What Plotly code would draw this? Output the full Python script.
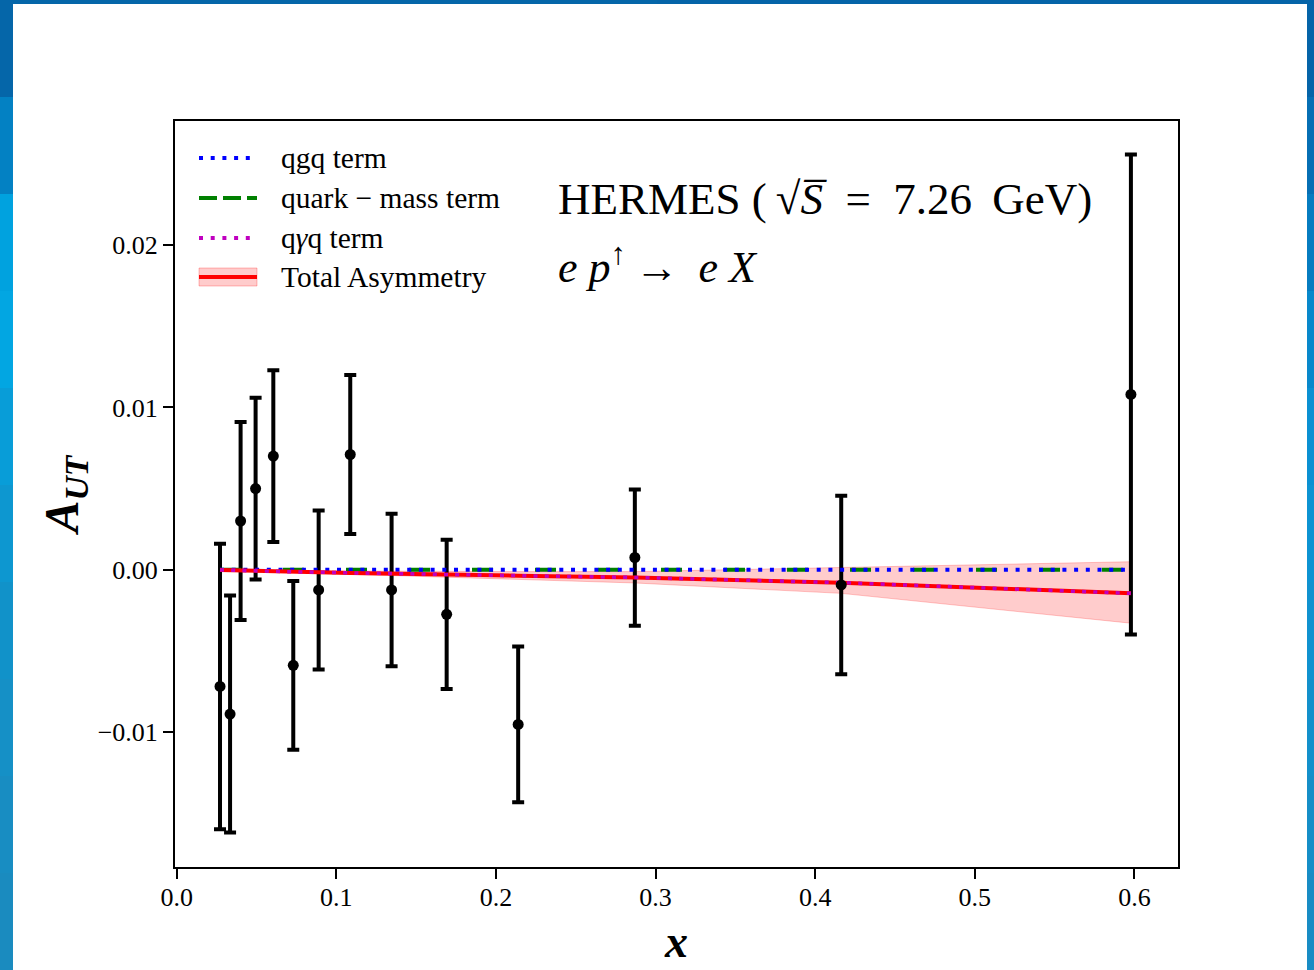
import plotly.graph_objects as go

# ---------------- data ----------------
x_data = [0.0271, 0.0334, 0.0400, 0.0494, 0.0605, 0.0730, 0.0889,
          0.1087, 0.1346, 0.1691, 0.2139, 0.2870, 0.4163, 0.5978]
a_ut = [-0.0072, -0.0089, 0.0030, 0.0050, 0.0070, -0.0059, -0.00125,
        0.0071, -0.00125, -0.00275, -0.00954, 0.00075, -0.00094, 0.0108]
a_err = [0.0088, 0.0073, 0.0061, 0.0056, 0.0053, 0.0052, 0.0049,
         0.0049, 0.0047, 0.0046, 0.0048, 0.0042, 0.0055, 0.0148]

x_theory = x_data
qgq_term = [0.0, 0.0, 0.0, 0.0, 0.0, 0.0, 0.0,
            0.0, 0.0, 0.0, 0.0, 0.0, 0.0, 0.0]
qmass_term = [0.0, 0.0, 0.0, 0.0, 0.0, 0.0, 0.0,
              0.0, 0.0, 0.0, 0.0, 0.0, 0.0, 0.0]
qgammaq_term = [-0.00002, -0.00004, -0.00006, -0.00008, -0.0001, -0.00013, -0.00016,
                -0.0002, -0.00025, -0.0003, -0.00037, -0.00048, -0.0008, -0.00146]
total = [-0.00002, -0.00004, -0.00006, -0.00008, -0.0001, -0.00013, -0.00016,
         -0.0002, -0.00025, -0.0003, -0.00037, -0.00048, -0.0008, -0.00146]
total_hi = [-0.00001, -0.00002, -0.00003, -0.00004, -0.00005, -0.00006, -0.00007,
            -0.00008, -0.0001, -0.00011, -0.00012, -0.00012, 0.00015, 0.00049]
total_lo = [-0.00004, -0.00006, -0.0001, -0.00013, -0.00016, -0.0002, -0.00025,
            -0.0003, -0.00038, -0.00048, -0.0006, -0.00082, -0.00146, -0.0033]

x_ticks = [0.0, 0.1, 0.2, 0.3, 0.4, 0.5, 0.6]
x_tick_labels = ["0.0", "0.1", "0.2", "0.3", "0.4", "0.5", "0.6"]
y_ticks = [-0.01, 0.0, 0.01, 0.02]
y_tick_labels = ["\u22120.01", "0.00", "0.01", "0.02"]

legend_labels = ["qgq term", "quark \u2212 mass term", "q<i>\u03b3</i>q term", "Total Asymmetry"]

# ---------------- layout geometry ----------------
W, H = 1314, 970
L, R, T, B = 175, 136, 121, 103
PW, PH = W - L - R, H - T - B
FONT = "Liberation Serif"


def px(x):
    return (x - L) / PW


def py(y):
    return (H - B - y) / PH


fig = go.Figure()

# band
fig.add_trace(go.Scatter(
    x=x_theory + x_theory[::-1], y=total_hi + total_lo[::-1],
    fill="toself", fillcolor="rgba(255,0,0,0.2)",
    line=dict(color="rgba(255,0,0,0.22)", width=1),
    mode="lines", hoverinfo="skip", showlegend=False))

# error bars (no visible markers)
fig.add_trace(go.Scatter(
    x=x_data, y=a_ut, mode="markers",
    marker=dict(size=11, color="rgba(0,0,0,0)"),
    error_y=dict(type="data", array=a_err, visible=True,
                 color="black", thickness=4, width=6),
    showlegend=False))

# theory lines
fig.add_trace(go.Scatter(x=x_theory, y=qmass_term, mode="lines",
                         line=dict(color="green", width=4, dash="21px,42px"),
                         showlegend=False))
fig.add_trace(go.Scatter(x=x_theory, y=qgq_term, mode="lines",
                         line=dict(color="blue", width=4, dash="4px,7.7px"),
                         showlegend=False))
fig.add_trace(go.Scatter(x=x_theory, y=total, mode="lines",
                         line=dict(color="red", width=4),
                         showlegend=False))
fig.add_trace(go.Scatter(x=x_theory, y=qgammaq_term, mode="lines",
                         line=dict(color="#c000c0", width=3.5, dash="4px,7.2px"),
                         showlegend=False))

# data markers on top
fig.add_trace(go.Scatter(x=x_data, y=a_ut, mode="markers",
                         marker=dict(size=11, color="black"),
                         showlegend=False))

# ---------------- background frame ----------------
shapes = []
left_cols = ["#0566a9", "#0381c3", "#00a2df", "#02a6e2", "#089dd8",
             "#0d97d0", "#1192c9", "#1590c6", "#188dc2", "#1a8bbf"]
right_cols = ["#0564a8", "#066fb4", "#067cc0", "#0888cb", "#0a90d2",
              "#0d93d2", "#1092cf", "#1390cb", "#168ec7", "#188cc4"]
nb = len(left_cols)
for i in range(nb):
    y0 = i * H / nb
    y1 = (i + 1) * H / nb + 1
    shapes.append(dict(type="rect", xref="paper", yref="paper", layer="below",
                       x0=px(-5), x1=px(W / 2), y0=py(y1), y1=py(y0),
                       fillcolor=left_cols[i], line=dict(width=0)))
    shapes.append(dict(type="rect", xref="paper", yref="paper", layer="below",
                       x0=px(W / 2), x1=px(W + 5), y0=py(y1), y1=py(y0),
                       fillcolor=right_cols[i], line=dict(width=0)))
shapes.append(dict(type="rect", xref="paper", yref="paper", layer="below",
                   x0=px(13), x1=px(1307), y0=py(H + 5), y1=py(4),
                   fillcolor="white", line=dict(width=0)))

# ---------------- manual legend ----------------
rows = [158, 198, 238, 277]
hx0, hx1 = 199, 257
shapes.append(dict(type="rect", xref="paper", yref="paper",
                   x0=px(hx0), x1=px(hx1), y0=py(rows[3] + 9), y1=py(rows[3] - 9),
                   fillcolor="rgba(255,0,0,0.2)", line=dict(color="rgba(255,0,0,0.25)", width=1)))
legend_styles = [dict(color="blue", width=4, dash="4px,7.7px"),
                 dict(color="green", width=4, dash="18px,6px"),
                 dict(color="#c000c0", width=4, dash="4px,7.7px"),
                 dict(color="red", width=4)]
for yy, st in zip(rows, legend_styles):
    shapes.append(dict(type="line", xref="paper", yref="paper",
                       x0=px(hx0), x1=px(hx1), y0=py(yy), y1=py(yy), line=st))

annotations = []
for yy, lab in zip(rows, legend_labels):
    annotations.append(dict(xref="paper", yref="paper", x=px(279), y=py(yy),
                            xanchor="left", yanchor="middle", showarrow=False,
                            text=lab, font=dict(family=FONT, size=29.5, color="black")))

annotations.append(dict(xref="paper", yref="paper", x=px(556), y=py(199),
                        xanchor="left", yanchor="middle", showarrow=False,
                        text="HERMES (\u2009\u221a<i>S\u0305</i>  =  7.26\u2009 GeV)",
                        font=dict(family=FONT, size=45, color="black")))
annotations.append(dict(xref="paper", yref="paper", x=px(556), y=py(264),
                        xanchor="left", yanchor="middle", showarrow=False,
                        text="<i>e p</i><sup>\u2191</sup>\u2009\u2192\u2009 <i>e X</i>",
                        font=dict(family=FONT, size=44, color="black")))

fig.update_layout(
    width=W, height=H, autosize=False,
    margin=dict(l=L, r=R, t=T, b=B, pad=0),
    paper_bgcolor="#0a8cc8", plot_bgcolor="white",
    shapes=shapes, annotations=annotations,
    showlegend=False,
    font=dict(family=FONT, color="black"),
    xaxis=dict(range=[-0.0011, 0.6273], tickvals=x_ticks, ticktext=x_tick_labels,
               showline=True, mirror=True, linecolor="black", linewidth=2,
               ticks="outside", ticklen=10, tickwidth=2, tickcolor="black",
               showgrid=False, zeroline=False, ticklabelstandoff=-4,
               tickfont=dict(family=FONT, size=26, color="black"),
               title=dict(text="<b><i>x</i></b>", standoff=14,
                          font=dict(family=FONT, size=46, color="black"))),
    yaxis=dict(range=[-0.01833, 0.02766], tickvals=y_ticks, ticktext=y_tick_labels,
               showline=True, mirror=True, linecolor="black", linewidth=2,
               ticks="outside", ticklen=10, tickwidth=2, tickcolor="black",
               showgrid=False, zeroline=False,
               tickfont=dict(family=FONT, size=26, color="black"),
               title=dict(text="<b><i>A</i><sub><i>UT</i></sub></b>", standoff=4,
                          font=dict(family=FONT, size=48, color="black"))),
)

fig.write_html("out.html")
